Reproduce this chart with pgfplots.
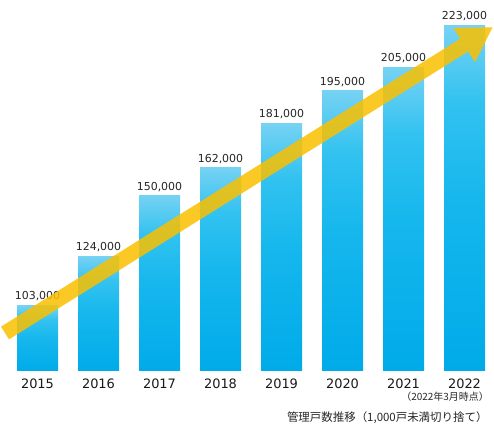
\documentclass[border=0pt]{standalone}
\usepackage{pgfplots}
\pgfplotsset{compat=1.18}
\usepackage{pgfplotstable}
\usepackage{fontspec}
\setmainfont{DejaVu Sans}
\newfontfamily\jp{Noto Sans CJK JP}
\usetikzlibrary{arrows.meta}
\definecolor{bartop}{RGB}{118,210,243}
\definecolor{barup}{RGB}{50,194,240}
\definecolor{barmid}{RGB}{22,183,237}
\definecolor{barbot}{RGB}{0,171,233}
\definecolor{arrowc}{RGB}{250,192,0}
\pgfdeclareverticalshading{barshade}{100bp}{color(0bp)=(barbot); color(25bp)=(barbot); color(50bp)=(barmid); color(64bp)=(barup); color(75bp)=(bartop); color(100bp)=(bartop)}
\pgfplotstableread{
x year v
0 2015 103000
1 2016 124000
2 2017 150000
3 2018 162000
4 2019 181000
5 2020 195000
6 2021 205000
7 2022 223000
}\datatable
\begin{document}
\begin{tikzpicture}
\useasboundingbox (0,0) rectangle (494bp,426bp);
\begin{axis}[
  at={(0,55bp)}, anchor=south west,
  scale only axis, width=494bp, height=371bp,
  xmin=-0.6148, xmax=7.4836,
  ymin=0, ymax=159000,
  axis line style={draw=none},
  tick style={draw=none},
  ytick=\empty,
  xtick={0,1,2,3,4,5,6,7},
  xticklabels={2015,2016,2017,2018,2019,2020,2021,2022},
  xticklabel style={font=\fontsize{13}{15}\selectfont, inner sep=0pt, yshift=-3bp, text=black!90},
  ybar, bar width=41bp, bar shift=0pt,
  point meta=explicit,
  nodes near coords={\pgfmathprintnumber[fixed,precision=0,1000 sep={,}]{\pgfplotspointmeta}},
  nodes near coords style={font=\fontsize{11}{13}\selectfont, text=black!85, inner sep=1pt, yshift=3bp},
  /pgf/number format/assume math mode=true,
]
\pgfplotsinvokeforeach{0,...,7}{
\addplot[draw=none, fill=barmid, shading=barshade,
  x filter/.expression={x==#1 ? x : nan}]
  table[x=x, y expr=\thisrow{v}-74900, meta=v] {\datatable};
}
\end{axis}
\begin{scope}[transparency group, opacity=0.85]
\draw[arrowc, line width=15bp, -{Triangle[width=38bp, length=34bp]}] (5bp,93bp) -- (493bp,399bp);
\end{scope}
\node[font=\jp\fontsize{10}{12}\selectfont, text=black!85] at (445bp,29bp) {（2022年3月時点）};
\node[font=\jp\fontsize{11.5}{13}\selectfont, text=black!85, anchor=east] at (491bp,8bp) {管理戸数推移（1,000戸未満切り捨て）};
\end{tikzpicture}
\end{document}
